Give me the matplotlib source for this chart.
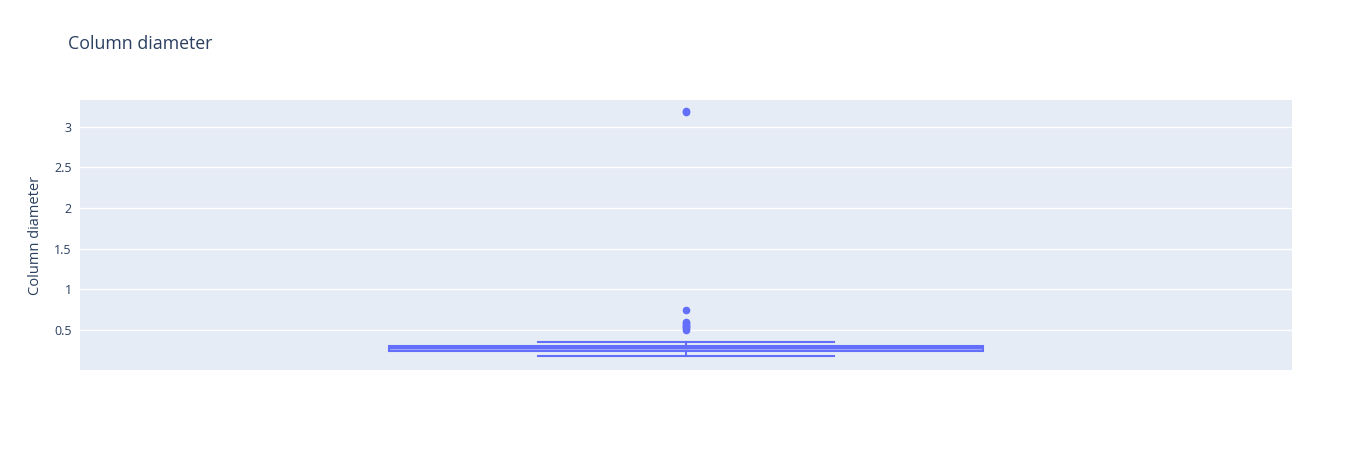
import matplotlib
matplotlib.use("Agg")
import matplotlib.pyplot as plt

plt.rcParams['font.family'] = ['Open Sans', 'DejaVu Sans']

## data
label = "Column diameter"
q1 = 0.245
median = 0.272
q3 = 0.303
whisker_low = 0.18
whisker_high = 0.346
outliers = [3.18, 3.19, 0.75, 0.60, 0.58, 0.565, 0.55, 0.535, 0.52, 0.505]
yticks = [0.5, 1, 1.5, 2, 2.5, 3]

## colours
box_color = "#636efa"
text_color = "#2a3f5f"
bg_color = "#e5ecf6"

fig = plt.figure(figsize=(13.72, 4.5), dpi=100)
ax = fig.add_axes([80 / 1372, 80 / 450, 1212 / 1372, 270 / 450])
ax.set_facecolor(bg_color)

stats = [{"q1": q1, "med": median, "q3": q3,
          "whislo": whisker_low, "whishi": whisker_high,
          "fliers": outliers}]

ax.bxp(stats, positions=[0], widths=0.49, capwidths=0.245, patch_artist=True,
       boxprops=dict(facecolor=(0.388, 0.431, 0.98, 0.5), edgecolor=box_color, linewidth=1.5),
       medianprops=dict(color=box_color, linewidth=1.5),
       whiskerprops=dict(color=box_color, linewidth=1.5),
       capprops=dict(color=box_color, linewidth=1.5),
       flierprops=dict(marker="o", markerfacecolor=box_color, markeredgecolor=box_color,
                       markersize=4.5, alpha=1))

ax.set_xlim(-0.5, 0.5)
ax.set_ylim(0.007, 3.33)
ax.set_xticks([])
ax.set_yticks(yticks)
ax.set_yticklabels([str(t) for t in yticks])
ax.grid(axis="y", color="white", linewidth=1)
ax.set_axisbelow(True)
for s in ax.spines.values():
    s.set_visible(False)
ax.tick_params(axis="y", length=0, labelsize=9, labelcolor=text_color, pad=6)
ax.set_ylabel(label, fontsize=10.5, color=text_color, labelpad=8)

fig.text(68 / 1372, 1 - 44 / 450, label, fontsize=12.75, color=text_color, va="center")

fig.savefig("out.png", dpi=100)
